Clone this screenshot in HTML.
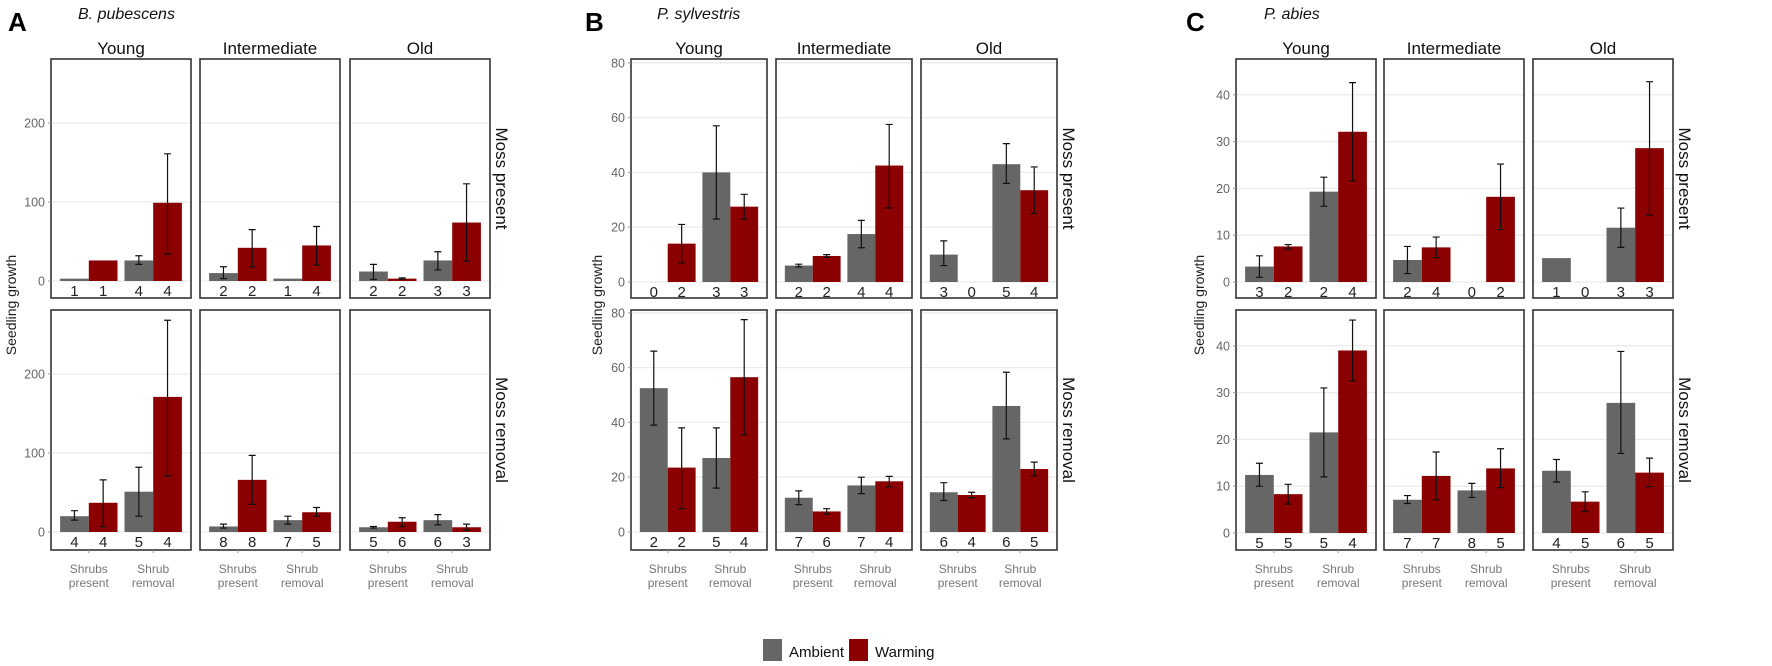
<!DOCTYPE html>
<html><head><meta charset="utf-8"><style>body{margin:0;background:#fff}svg{display:block}</style></head>
<body>
<svg id="s" width="1772" height="666" xmlns="http://www.w3.org/2000/svg" font-family="Liberation Sans, sans-serif"></svg>
<script>
const S=document.getElementById('s');let h='';
const G='#666666',R='#8b0000';
function panel(p){
  const rows=[{y0:p.z0[0],top:59,bot:298},{y0:p.z0[1],top:310,bot:550}];
  h+=`<text x="${p.lx}" y="31" font-size="26" font-weight="bold" fill="#000">${p.L}</text>`;
  h+=`<text x="${p.tx}" y="19" font-size="16" font-style="italic" fill="#111">${p.title}</text>`;
  h+=`<text transform="translate(${p.ylx},305) rotate(-90)" text-anchor="middle" font-size="14" fill="#222">Seedling growth</text>`;
  const names=['Young','Intermediate','Old'];
  p.fx.forEach((fx,fi)=>{
    const w=p.fw;
    h+=`<text x="${fx+w/2}" y="54" text-anchor="middle" font-size="17" fill="#111">${names[fi]}</text>`;
    rows.forEach((r,ri)=>{
      // grid
      p.ticks.forEach(t=>{const y=r.y0-t*p.k;if(y>r.top){h+=`<line x1="${fx}" x2="${fx+w}" y1="${y}" y2="${y}" stroke="#ebebeb" stroke-width="1.3"/>`;}});
      const d=p.d[ri][fi];
      const cs=[w*0.27,w*0.73],bw=w*0.205;
      d.forEach((b,bi)=>{
        const c=cs[bi>>1],x=bi%2==0?c-bw:c,col=bi%2==0?G:R;
        const [v,lo,hi,n]=b;
        if(v>0)h+=`<rect x="${fx+x}" y="${r.y0-v*p.k}" width="${bw}" height="${v*p.k}" fill="${col}"/>`;
        if(lo!=null){const cx=fx+x+bw/2,y1=r.y0-lo*p.k,y2=r.y0-hi*p.k;
          h+=`<path d="M${cx},${y1}V${y2}M${cx-3.5},${y1}h7M${cx-3.5},${y2}h7" stroke="#111" stroke-width="1.2" fill="none"/>`;}
        h+=`<text x="${fx+x+bw/2}" y="${r.y0+15}" text-anchor="middle" font-size="15" fill="#222">${n}</text>`;
      });
      h+=`<rect x="${fx}" y="${r.top}" width="${w}" height="${r.bot-r.top}" fill="none" stroke="#333" stroke-width="1.6"/>`;
      if(fi==0){p.ticks.forEach(t=>{const y=r.y0-t*p.k;if(y>r.top-2){h+=`<text x="${fx-6}" y="${y+4.5}" text-anchor="end" font-size="12.5" fill="#666">${t}</text><line x1="${fx-3}" x2="${fx}" y1="${y}" y2="${y}" stroke="#999"/>`;}});}
      if(ri==1){cs.forEach((c,ci)=>{h+=`<line x1="${fx+c}" x2="${fx+c}" y1="550" y2="553" stroke="#999"/>`;
        h+=`<text x="${fx+c}" y="573" text-anchor="middle" font-size="12" fill="#777">${ci?'Shrub':'Shrubs'}</text><text x="${fx+c}" y="587" text-anchor="middle" font-size="12" fill="#777">${ci?'removal':'present'}</text>`;});}
      if(fi==2){const sx=fx+w+6,cy=(r.top+r.bot)/2;
        h+=`<text transform="translate(${sx},${cy}) rotate(90)" text-anchor="middle" font-size="17" fill="#111">${ri?'Moss removal':'Moss present'}</text>`;}
    });
  });
}
const N=null;
panel({L:'A',lx:8,title:'B. pubescens',tx:78,ylx:16,fx:[51,200,350],fw:140,z0:[281,532],k:0.79,ticks:[0,100,200],
d:[[[[3,N,N,1],[26,N,N,1],[26,21,32,4],[99,34,161,4]],
    [[10,3,18,2],[42,18,65,2],[3,N,N,1],[45,20,69,4]],
    [[12,2,21,2],[3,2,4,2],[26,14,37,3],[74,25,123,3]]],
   [[[20,15,27,4],[37,7,66,4],[51,20,82,5],[171,71,268,4]],
    [[7,5,10,8],[66,35,97,8],[15,10,20,7],[25,20,31,5]],
    [[6,5,7,5],[13,7,18,6],[15,9,22,6],[6,2,10,3]]]]});
panel({L:'B',lx:585,title:'P. sylvestris',tx:657,ylx:602,fx:[631,776,921],fw:136,z0:[282,532],k:2.74,ticks:[0,20,40,60,80],
d:[[[[0,N,N,0],[14,7,21,2],[40,23,57,3],[27.5,23,32,3]],
    [[6,5.5,6.5,2],[9.5,9,10,2],[17.5,12.5,22.5,4],[42.5,27,57.5,4]],
    [[10,6,15,3],[0,N,N,0],[43,36,50.5,5],[33.5,25,42,4]]],
   [[[52.5,39,66,2],[23.5,8.5,38,2],[27,16,38,5],[56.5,35.5,77.5,4]],
    [[12.5,10,15,7],[7.5,6.5,8.5,6],[17,14,20,7],[18.5,16.5,20.3,4]],
    [[14.5,11.5,18,6],[13.5,12.5,14.5,4],[46,34,58.3,6],[23,20.5,25.5,5]]]]});
panel({L:'C',lx:1186,title:'P. abies',tx:1264,ylx:1204,fx:[1236,1384,1533],fw:140,z0:[282,533],k:4.68,ticks:[0,10,20,30,40],
d:[[[[3.3,1,5.6,3],[7.6,7,8,2],[19.3,16.2,22.4,2],[32.1,21.6,42.6,4]],
    [[4.7,1.8,7.6,2],[7.4,5.2,9.6,4],[0,N,N,0],[18.2,11.2,25.2,2]],
    [[5.1,N,N,1],[0,N,N,0],[11.6,7.4,15.8,3],[28.6,14.3,42.8,3]]],
   [[[12.4,10,14.9,5],[8.3,6.2,10.4,5],[21.5,12,31,5],[39,32.5,45.5,4]],
    [[7.1,6.3,8,7],[12.2,7.1,17.3,7],[9.1,7.6,10.6,8],[13.8,9.7,18,5]],
    [[13.3,10.9,15.7,4],[6.7,4.6,8.8,5],[27.8,17,38.8,6],[12.9,9.9,16,5]]]]});
h+=`<rect x="763" y="639" width="19" height="22" fill="${G}"/><text x="789" y="657" font-size="15" fill="#111">Ambient</text>`;
h+=`<rect x="849" y="639" width="19" height="22" fill="${R}"/><text x="875" y="657" font-size="15" fill="#111">Warming</text>`;
S.innerHTML=h;
</script>
</body></html>
